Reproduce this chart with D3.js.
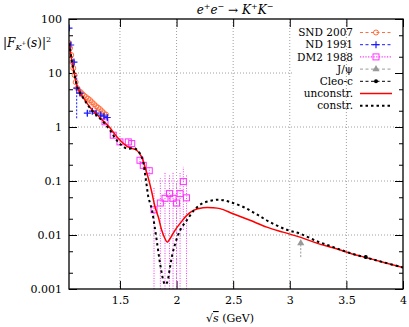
<!DOCTYPE html>
<html>
<head>
<meta charset="utf-8">
<script src="https://cdn.jsdelivr.net/npm/d3@7"></script>
<style>
    body { margin: 0; background: #fff; }
    svg { display: block; font-family: "DejaVu Serif", serif; }
</style>
</head>
<body>
<div id="chart"></div>
<script>
// fit curves
const unconstrS = [1.053, 1.074, 1.094, 1.128, 1.183, 1.242, 1.300, 1.359, 1.403, 1.448, 1.501, 1.571, 1.648, 1.692, 1.721, 1.751, 1.781, 1.810, 1.839, 1.869, 1.898, 1.918, 1.942, 1.986, 2.031, 2.090, 2.148, 2.234, 2.322, 2.384, 2.499, 2.649, 2.797, 2.940, 3.091, 3.238, 3.382, 3.532, 3.680, 3.824, 4.0];
const unconstrV = [35.4, 17.3, 10.5, 5.2, 3.31, 2.23, 1.67, 1.26, 1.02, 0.767, 0.569, 0.428, 0.371, 0.279, 0.182, 0.112, 0.0625, 0.033, 0.0215, 0.0122, 0.00853, 0.00738, 0.00853, 0.0122, 0.0164, 0.0231, 0.0286, 0.0321, 0.0321, 0.0308, 0.0248, 0.0187, 0.0140, 0.0113, 0.00914, 0.00708, 0.00581, 0.00461, 0.00379, 0.00314, 0.0025];

const constrS = [1.053, 1.074, 1.094, 1.128, 1.183, 1.242, 1.300, 1.359, 1.412, 1.471, 1.516, 1.560, 1.633, 1.677, 1.706, 1.721, 1.736, 1.751, 1.781, 1.803, 1.825, 1.854, 1.883, 1.898, 1.916, 1.942, 1.971, 2.031, 2.090, 2.154, 2.222, 2.300, 2.380, 2.470, 2.590, 2.708, 2.826, 2.973, 3.091, 3.238, 3.385, 3.532, 3.680, 3.824, 4.0];
const constrV = [35.4, 17.3, 10.4, 5.2, 3.25, 2.15, 1.6, 1.2, 0.873, 0.569, 0.459, 0.399, 0.399, 0.322, 0.225, 0.139, 0.0832, 0.0505, 0.030, 0.016, 0.0079, 0.0030, 0.00144, 0.00121, 0.00132, 0.00254, 0.00518, 0.0122, 0.0187, 0.0286, 0.038, 0.043, 0.045, 0.041, 0.033, 0.0241, 0.0173, 0.0125, 0.0106, 0.0077, 0.00597, 0.00463, 0.00379, 0.00314, 0.0025];

// measurements
const sndS = [1.050, 1.059, 1.070, 1.079, 1.088, 1.099, 1.109, 1.123, 1.138, 1.153, 1.169, 1.183, 1.200, 1.218, 1.236, 1.253, 1.271, 1.289, 1.306, 1.324, 1.342, 1.359, 1.377];
const sndV = [35.9, 29, 21.5, 15.9, 12.3, 9.15, 6.78, 5.25, 4.61, 4.42, 4.06, 3.81, 3.57, 3.35, 3.14, 2.88, 2.65, 2.43, 2.28, 2.14, 1.96, 1.80, 1.69];
const sndE = [1.5, 1.2, 1.0, 0.8, 0.6, 0.5, 0.4, 0.3, 0.25, 0.25, 0.2, 0.2, 0.2, 0.2, 0.18, 0.16, 0.15, 0.15, 0.14, 0.13, 0.12, 0.12, 0.12];

const ndS = [1.050, 1.065, 1.094, 1.118, 1.147, 1.212, 1.256, 1.289, 1.330, 1.359, 1.388];
const ndV = [68, 33, 15.9, 5.25, 4.24, 1.80, 1.96, 1.80, 1.66, 1.58, 1.50];
const ndE = [8, 4, 2, 3.8, 0.5, 0.2, 0.2, 0.2, 0.15, 0.15, 0.15];

const dm2S = [1.368, 1.441, 1.500, 1.574, 1.604, 1.677, 1.706, 1.759, 1.801, 1.857, 1.898, 1.938, 1.969, 2.000, 2.031, 2.060, 2.088];
const dm2V = [1.25, 0.705, 0.53, 0.53, 0.494, 0.242, 0.195, 0.155, 0.0293, 0.0391, 0.0478, 0.0584, 0.0478, 0.0391, 0.0584, 0.0975, 0.0488];
const dm2E = [0.15, 0.08, 0.06, 0.07, 0.07, 0.04, 0.035, 0.03, 0.048, 0.073, 0.10, 0.07, 0.10, 0.052, 0.089, 0.085, 0.08];

const jpsiS = [3.097];
const jpsiLow = [0.0039];
const jpsiHigh = [0.0077];

const cleoS = [3.671];
const cleoV = [0.00392];
const cleoE = [0.0003];

const xTicks = [1.5, 2, 2.5, 3, 3.5, 4];
const yTicks = [100, 10, 1, 0.1, 0.01, 0.001];
const yMinor = [50, 20, 5, 2, 0.5, 0.2, 0.05, 0.02, 0.005, 0.002];
const legendLabels = ["SND 2007", "ND 1991", "DM2 1988", "J/\u03c8", "Cleo-c", "unconstr.", "constr."];

const margin = {top: 19, right: 6, bottom: 38, left: 69};
const width = 409;
const height = 327;
const plotWidth = width - margin.left - margin.right;
const plotHeight = height - margin.top - margin.bottom;

const svg = d3.select("#chart").append("svg")
    .attr("width", width)
    .attr("height", height);

const g = svg.append("g")
    .attr("transform", `translate(${margin.left}, ${margin.top})`);

const x = d3.scaleLinear()
    .domain([1.05, 4])
    .range([0, plotWidth]);

const y = d3.scaleLog()
    .domain([0.001, 100])
    .range([plotHeight, 0]);

svg.append("defs").append("clipPath")
    .attr("id", "clip")
    .append("rect")
    .attr("width", plotWidth)
    .attr("height", plotHeight);

// grid
g.selectAll(".gy")
    .data(yTicks.filter(d => d < 100 && d > 0.001))
    .enter()
    .append("line")
    .attr("x1", 0).attr("x2", plotWidth)
    .attr("y1", d => y(d)).attr("y2", d => y(d))
    .attr("stroke", "#888").attr("stroke-width", 0.8)
    .attr("stroke-dasharray", "1,2");

// white patch behind the key
g.append("rect")
    .attr("x", 223).attr("y", 6)
    .attr("width", plotWidth - 225).attr("height", 51)
    .attr("fill", "#fff");

g.selectAll(".gx")
    .data(xTicks.filter(d => d < 4))
    .enter()
    .append("line")
    .attr("x1", d => x(d)).attr("x2", d => x(d))
    .attr("y1", 0).attr("y2", plotHeight)
    .attr("stroke", "#888").attr("stroke-width", 0.8)
    .attr("stroke-dasharray", "1,2");

// axes
function styleAxis(sel) {
    sel.select(".domain").remove();
    sel.selectAll("text")
        .attr("font-family", "DejaVu Serif, serif")
        .attr("font-size", 11)
        .attr("fill", "#000");
    sel.selectAll("line").attr("stroke", "#000").attr("stroke-width", 1);
}

g.append("g")
    .attr("transform", `translate(0, ${plotHeight})`)
    .call(d3.axisBottom(x).tickValues(xTicks).tickFormat(d3.format("")).tickSizeInner(-8).tickSizeOuter(0).tickPadding(7))
    .call(styleAxis);

g.append("g")
    .call(d3.axisTop(x).tickValues(xTicks).tickFormat("").tickSizeInner(-8).tickSizeOuter(0))
    .call(styleAxis);

g.append("g")
    .call(d3.axisLeft(y).tickValues(yTicks).tickFormat(d3.format("~g")).tickSizeInner(-8).tickSizeOuter(0).tickPadding(7))
    .call(styleAxis);

g.append("g")
    .call(d3.axisLeft(y).tickValues(yMinor).tickFormat("").tickSizeInner(-4).tickSizeOuter(0))
    .call(styleAxis);

g.append("g")
    .attr("transform", `translate(${plotWidth}, 0)`)
    .call(d3.axisRight(y).tickValues(yTicks).tickFormat("").tickSizeInner(-8).tickSizeOuter(0))
    .call(styleAxis);

g.append("g")
    .attr("transform", `translate(${plotWidth}, 0)`)
    .call(d3.axisRight(y).tickValues(yMinor).tickFormat("").tickSizeInner(-4).tickSizeOuter(0))
    .call(styleAxis);

const plot = g.append("g").attr("clip-path", "url(#clip)");

const clampLow = v => Math.max(v, 0.0009);

// error bars + markers for one data set
function drawSet(s, v, e, color, dash, marker) {
    const pts = s.map((d, i) => ({s: d, v: v[i], e: e[i]}));
    plot.selectAll(null)
        .data(pts)
        .enter()
        .append("line")
        .attr("x1", d => x(d.s)).attr("x2", d => x(d.s))
        .attr("y1", d => y(clampLow(d.v - d.e)))
        .attr("y2", d => y(d.v + d.e))
        .attr("stroke", color).attr("stroke-width", 1)
        .attr("stroke-dasharray", dash);
    pts.forEach(d => marker(plot, x(d.s), y(d.v)));
}

function circleMark(sel, cx, cy, color) {
    sel.append("circle").attr("cx", cx).attr("cy", cy).attr("r", 2.5)
        .attr("fill", "none").attr("stroke", color).attr("stroke-width", 1);
}
function plusMark(sel, cx, cy, color) {
    sel.append("path").attr("d", `M${cx - 3.5},${cy}H${cx + 3.5}M${cx},${cy - 3.5}V${cy + 3.5}`)
        .attr("stroke", color).attr("stroke-width", 1.2);
}
function squareMark(sel, cx, cy, color) {
    sel.append("rect").attr("x", cx - 3).attr("y", cy - 3).attr("width", 6).attr("height", 6)
        .attr("fill", "none").attr("stroke", color).attr("stroke-width", 1);
}
function triMark(sel, cx, cy, color) {
    sel.append("path").attr("d", d3.symbol(d3.symbolTriangle, 22)())
        .attr("transform", `translate(${cx},${cy})`).attr("fill", color);
}
function dotMark(sel, cx, cy, color) {
    sel.append("circle").attr("cx", cx).attr("cy", cy).attr("r", 2).attr("fill", color);
}

const sndColor = "#ff6e3c", ndColor = "#1a1aff", dm2Color = "#ff33ff", jpsiColor = "#999";

drawSet(dm2S, dm2V, dm2E, dm2Color, "1,1.5", (sel, a, b) => squareMark(sel, a, b, dm2Color));
drawSet(sndS, sndV, sndE, sndColor, "2,1.5", (sel, a, b) => circleMark(sel, a, b, sndColor));
drawSet(ndS, ndV, ndE, ndColor, "2,1.5", (sel, a, b) => plusMark(sel, a, b, ndColor));

// J/psi arrow
jpsiS.forEach((d, i) => {
    plot.append("line")
        .attr("x1", x(d)).attr("x2", x(d))
        .attr("y1", y(jpsiLow[i])).attr("y2", y(jpsiHigh[i]) + 2)
        .attr("stroke", jpsiColor).attr("stroke-width", 1)
        .attr("stroke-dasharray", "2,1.5");
    triMark(plot, x(d), y(jpsiHigh[i]) + 2, jpsiColor);
});

// curves
const line = d3.line()
    .x(d => x(d[0]))
    .y(d => y(d[1]))
    .curve(d3.curveCatmullRom);

plot.append("path")
    .datum(unconstrS.map((d, i) => [d, unconstrV[i]]))
    .attr("fill", "none")
    .attr("stroke", "#ff0000")
    .attr("stroke-width", 1.5)
    .attr("d", line);

plot.append("path")
    .datum(constrS.map((d, i) => [d, constrV[i]]))
    .attr("fill", "none")
    .attr("stroke", "#000")
    .attr("stroke-width", 2)
    .attr("stroke-dasharray", "2.5,3")
    .attr("d", line);

// Cleo-c
cleoS.forEach((d, i) => {
    plot.append("line")
        .attr("x1", x(d)).attr("x2", x(d))
        .attr("y1", y(cleoV[i] - cleoE[i])).attr("y2", y(cleoV[i] + cleoE[i]))
        .attr("stroke", "#000").attr("stroke-width", 1);
    dotMark(plot, x(d), y(cleoV[i]), "#000");
});

// frame
g.append("rect")
    .attr("width", plotWidth)
    .attr("height", plotHeight)
    .attr("fill", "none")
    .attr("stroke", "#000")
    .attr("stroke-width", 1.3);

// key
const keyStyles = [
    {color: sndColor, dash: "3,2.5", width: 1, mark: circleMark},
    {color: ndColor, dash: "3,2.5", width: 1, mark: plusMark},
    {color: dm2Color, dash: "1.2,1.5", width: 1.2, mark: squareMark},
    {color: jpsiColor, dash: "3,2.5", width: 1, mark: triMark},
    {color: "#000", dash: "3,2.5", width: 1, mark: dotMark},
    {color: "#ff0000", dash: null, width: 1.5, mark: null},
    {color: "#000", dash: "2.5,3", width: 2, mark: null}
];

const key = svg.append("g");
legendLabels.forEach((label, i) => {
    const ky = 32.5 + i * 12.2;
    const st = keyStyles[i];
    key.append("text")
        .attr("x", 353).attr("y", ky)
        .attr("dy", "0.35em")
        .attr("text-anchor", "end")
        .attr("font-size", 10.5)
        .text(label);
    key.append("line")
        .attr("x1", 360).attr("x2", 392)
        .attr("y1", ky).attr("y2", ky)
        .attr("stroke", st.color)
        .attr("stroke-width", st.width)
        .attr("stroke-dasharray", st.dash);
    if (st.mark) st.mark(key, 376, ky, st.color);
});

// title
const title = svg.append("text")
    .attr("x", 235).attr("y", 14)
    .attr("text-anchor", "middle")
    .attr("font-size", 12);
title.append("tspan").attr("font-style", "italic").text("e");
title.append("tspan").attr("font-size", 8).attr("dy", -5).text("+");
title.append("tspan").attr("font-style", "italic").attr("dy", 5).text("e");
title.append("tspan").attr("font-size", 8).attr("dy", -5).text("\u2212");
title.append("tspan").attr("dy", 5).text(" \u2192 ");
title.append("tspan").attr("font-style", "italic").text("K");
title.append("tspan").attr("font-size", 8).attr("dy", -5).text("+");
title.append("tspan").attr("font-style", "italic").attr("dy", 5).text("K");
title.append("tspan").attr("font-size", 8).attr("dy", -5).text("\u2212");

// y label
const ylab = svg.append("text")
    .attr("x", 3).attr("y", 47)
    .attr("font-size", 12);
ylab.append("tspan").text("|");
ylab.append("tspan").attr("font-style", "italic").text("F");
ylab.append("tspan").attr("font-style", "italic").attr("font-size", 8).attr("dy", 3).text("K");
ylab.append("tspan").attr("font-size", 6).attr("dy", -5).text("+");
ylab.append("tspan").attr("dy", 2).text("(");
ylab.append("tspan").attr("font-style", "italic").text("s");
ylab.append("tspan").text(")|");
ylab.append("tspan").attr("font-size", 8).attr("dy", -5).text("2");

// x label
const xlab = svg.append("text")
    .attr("x", 230).attr("y", 322)
    .attr("text-anchor", "middle")
    .attr("font-size", 11);
xlab.append("tspan").text("\u221a");
xlab.append("tspan").attr("font-style", "italic").attr("text-decoration", "overline").text("s");
xlab.append("tspan").text(" (GeV)");
</script>
</body>
</html>
